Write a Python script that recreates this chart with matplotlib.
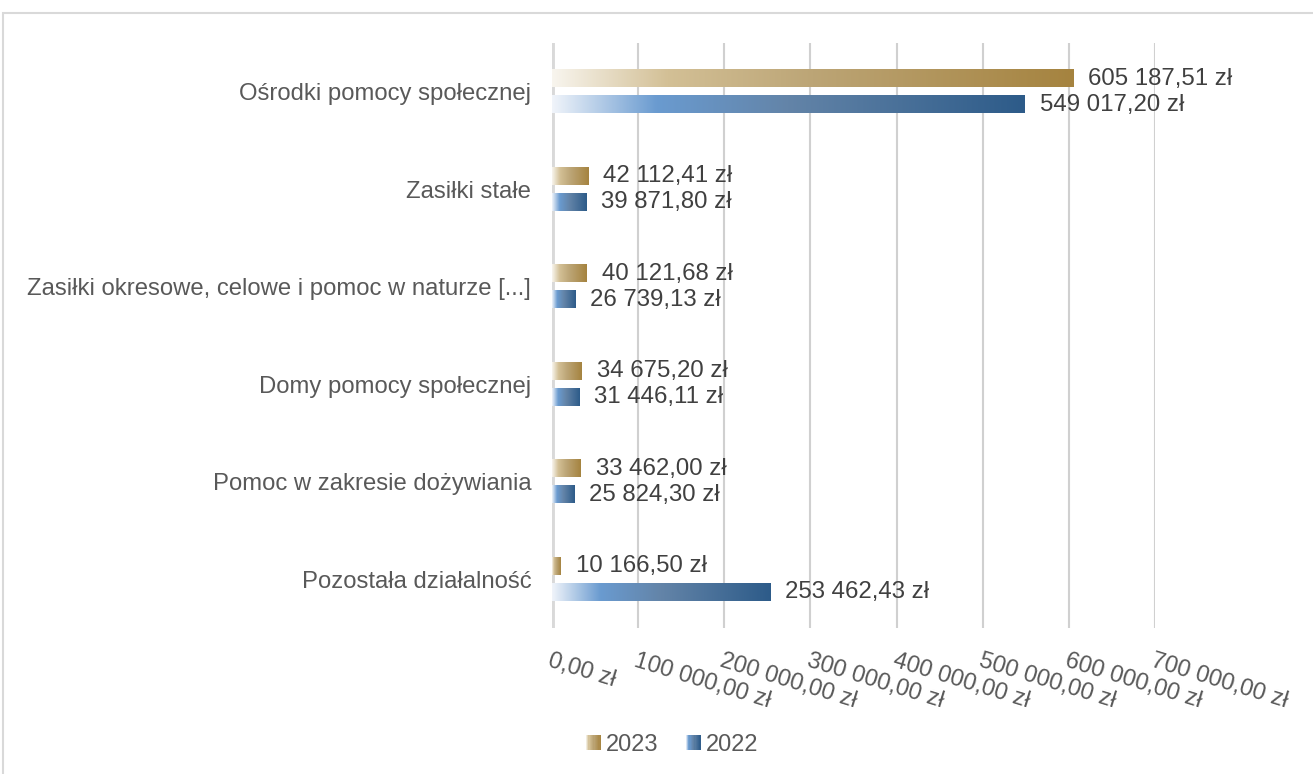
import numpy as np
import matplotlib
matplotlib.use("Agg")
import matplotlib.pyplot as plt
from matplotlib.colors import LinearSegmentedColormap
from matplotlib.patches import Rectangle
from matplotlib.legend_handler import HandlerBase

plt.rcParams['font.family'] = ['Liberation Sans', 'DejaVu Sans']

categories = [
    "Ośrodki pomocy społecznej",
    "Zasiłki stałe",
    "Zasiłki okresowe, celowe i pomoc w naturze [...]",
    "Domy pomocy społecznej",
    "Pomoc w zakresie dożywiania",
    "Pozostała działalność",
]
values_2023 = [605187.51, 42112.41, 40121.68, 34675.20, 33462.00, 10166.50]
values_2022 = [549017.20, 39871.80, 26739.13, 31446.11, 25824.30, 253462.43]
series_names = ["2023", "2022"]
x_ticks = [0, 100000, 200000, 300000, 400000, 500000, 600000, 700000]

gold = LinearSegmentedColormap.from_list(
    "gold", [(0.0, "#f8f5ee"), (0.22, "#d3c096"), (0.5, "#bca576"), (1.0, "#a5833f")])
blue = LinearSegmentedColormap.from_list(
    "blue", [(0.0, "#f0f4fa"), (0.22, "#6a9bd0"), (0.5, "#6384a8"), (1.0, "#2d5b89")])
grad = np.linspace(0, 1, 256).reshape(1, -1)


def pl_money(v, dec=2):
    s = f"{v:,.{dec}f}"
    s = s.replace(",", " ").replace(".", ",")
    return s + " zł"


W, H = 1313, 774
fig = plt.figure(figsize=(W / 100, H / 100), dpi=100)
fig.patches.append(Rectangle((3 / W, -0.1), 1.2, 1 - 13 / H + 0.1,
                             transform=fig.transFigure, fill=False,
                             edgecolor="#d9d9d9", linewidth=1.5))

ax = fig.add_axes([552 / W, 1 - 628 / H, (1155 - 552) / W, (628 - 43) / H])
n = len(categories)

bar_h = 0.175
offset = 0.133
for i in range(n):
    for val, cmap, dy in ((values_2023[i], gold, -offset), (values_2022[i], blue, offset)):
        yc = i + dy
        ax.imshow(grad, cmap=cmap, aspect="auto", interpolation="bilinear",
                  extent=[0, val, yc + bar_h / 2, yc - bar_h / 2], zorder=3)
        ax.annotate(pl_money(val), (val, yc), xytext=(15, 0),
                    textcoords="offset pixels",
                    va="center", ha="left", fontsize=17.3, color="#404040",
                    annotation_clip=False, zorder=4)

ax.set_xlim(0, 700000)
ax.set_ylim(n - 0.5, -0.5)

for x in x_ticks[1:]:
    ax.axvline(x, color="#d0d0d0", linewidth=1.5, zorder=1)
ax.axvline(0, color="#d9d9d9", linewidth=3.5, zorder=2)

for s in ax.spines.values():
    s.set_visible(False)

ax.set_yticks(range(n))
ax.set_yticklabels(categories, fontsize=17.2, color="#595959")
ax.tick_params(axis="y", length=0, pad=15)

ax.set_xticks(x_ticks)
ax.set_xticklabels([pl_money(v) for v in x_ticks], fontsize=17, color="#595959",
                   rotation=-17, ha="left", rotation_mode="anchor")
ax.tick_params(axis="x", length=0, pad=16)


class GradHandler(HandlerBase):
    def __init__(self, cmap):
        super().__init__()
        self.cmap = cmap

    def create_artists(self, legend, orig_handle, xdescent, ydescent,
                       width, height, fontsize, trans):
        arts = []
        steps = 12
        w = height * 1.0
        x0 = width - w
        for k in range(steps):
            arts.append(Rectangle((x0 + w * k / steps, -ydescent), w / steps + 0.3, height,
                                  facecolor=self.cmap((k + 0.5) / steps), edgecolor="none",
                                  transform=trans))
        return arts


h1 = Rectangle((0, 0), 1, 1)
h2 = Rectangle((0, 0), 1, 1)
fig.legend([h1, h2], series_names, loc="center", bbox_to_anchor=(670 / W, 1 - 745 / H),
           ncol=2, frameon=False, fontsize=17, labelcolor="#595959",
           handler_map={h1: GradHandler(gold), h2: GradHandler(blue)},
           handlelength=0.8, handleheight=0.6, handletextpad=0.2, columnspacing=1.0)

fig.savefig("out.png", dpi=100)
